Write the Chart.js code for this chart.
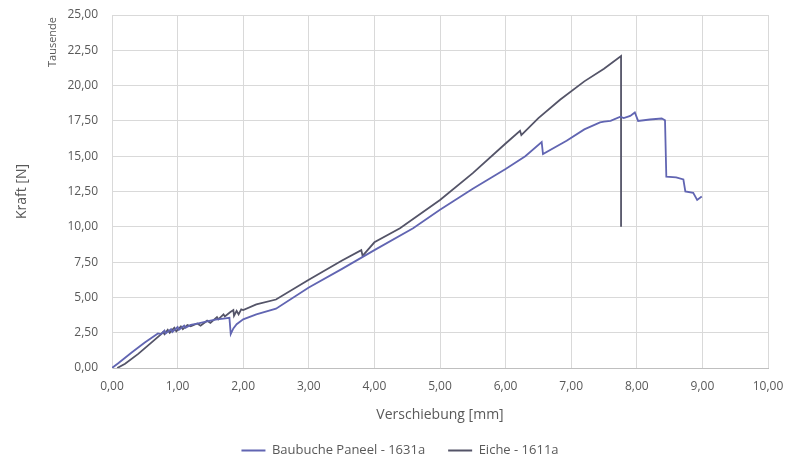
<!DOCTYPE html>
<html lang="de">
<head>
<meta charset="UTF-8">
<title>Kraft-Verschiebung</title>
<script src="https://cdn.jsdelivr.net/npm/chart.js@4"></script>
<style>
  html, body { margin: 0; padding: 0; background: #fff; }
  #wrap { width: 787px; height: 459px; }
</style>
</head>
<body>
<div id="wrap"><canvas id="chart" width="787" height="459"></canvas></div>
<script>
// Verschiebung [mm] / Kraft [kN, "Tausende"]
var bauX = [0, 0.1, 0.3, 0.5, 0.7, 0.75, 0.8, 0.82, 0.9, 0.92, 1.0, 1.02, 1.1, 1.12, 1.2, 1.3, 1.4, 1.5, 1.6, 1.7, 1.79,
            1.81, 1.85, 1.9, 2.0, 2.2, 2.5, 3.0, 3.5, 4.0, 4.59, 5.0, 5.5, 6.0, 6.3, 6.55, 6.57, 6.93, 7.2, 7.44, 7.5, 7.6,
            7.75, 7.8, 7.9, 7.97, 8.02, 8.2, 8.38, 8.43, 8.45, 8.6, 8.71, 8.74, 8.86, 8.92, 8.99];
var bauY = [0, 0.35, 1.1, 1.8, 2.45, 2.4, 2.65, 2.45, 2.75, 2.55, 2.9, 2.7, 3.0, 2.85, 3.05, 3.15, 3.25, 3.35, 3.45, 3.5, 3.55,
            2.4, 2.8, 3.1, 3.45, 3.8, 4.2, 5.7, 7.0, 8.35, 9.9, 11.2, 12.7, 14.1, 15.0, 16.0, 15.15, 16.1, 16.9, 17.4, 17.45, 17.5,
            17.8, 17.7, 17.85, 18.1, 17.5, 17.6, 17.67, 17.55, 13.55, 13.5, 13.35, 12.5, 12.4, 11.9, 12.15];

var eicheX = [0.08, 0.2, 0.4, 0.6, 0.75, 0.78, 0.8, 0.85, 0.88, 0.95, 0.98, 1.05, 1.08, 1.15, 1.2, 1.3, 1.35, 1.45, 1.5, 1.6,
              1.62, 1.7, 1.72, 1.8, 1.85, 1.86, 1.9, 1.93, 1.97, 2.0, 2.2, 2.5, 3.0, 3.5, 3.8, 3.82, 4.0, 4.39, 5.0, 5.5,
              6.0, 6.22, 6.24, 6.5, 6.83, 7.2, 7.5, 7.76, 7.76];
var eicheY = [0, 0.3, 1.0, 1.8, 2.4, 2.55, 2.4, 2.7, 2.5, 2.85, 2.6, 2.95, 2.75, 3.05, 2.95, 3.15, 3.0, 3.35, 3.2, 3.6,
              3.45, 3.8, 3.65, 3.95, 4.1, 3.7, 4.05, 3.8, 4.15, 4.1, 4.5, 4.85, 6.25, 7.6, 8.35, 7.95, 8.9, 9.9, 11.9, 13.8,
              15.9, 16.8, 16.5, 17.7, 19.0, 20.3, 21.2, 22.1, 10.0];

var seriesNames = ['Baubuche Paneel - 1631a', 'Eiche - 1611a'];
var xTicks = [0, 1, 2, 3, 4, 5, 6, 7, 8, 9, 10];
var yTicks = [0, 2.5, 5, 7.5, 10, 12.5, 15, 17.5, 20, 22.5, 25];

function pts(xs, ys) {
  return xs.map(function (x, i) { return { x: x, y: ys[i] }; });
}
function komma(v) { return v.toFixed(2).replace('.', ','); }

var textCol = '#595959';
var gridCol = '#d9d9d9';

// small "Tausende" label next to the y ticks
var tausende = {
  id: 'tausende',
  afterDraw: function (chart) {
    var c = chart.ctx;
    c.save();
    c.translate(53, 42);
    c.rotate(-Math.PI / 2);
    c.font = '11px "Open Sans", sans-serif';
    c.fillStyle = textCol;
    c.textAlign = 'center';
    c.textBaseline = 'middle';
    c.fillText('Tausende', 0, 0);
    c.restore();
  }
};

var ctx = document.getElementById('chart').getContext('2d');
var myChart = new Chart(ctx, {
  type: 'scatter',
  data: {
    datasets: [{
      label: seriesNames[0],
      data: pts(bauX, bauY),
      showLine: true,
      borderColor: '#6165b2',
      backgroundColor: '#6165b2',
      borderWidth: 1.8,
      pointRadius: 0,
      tension: 0
    }, {
      label: seriesNames[1],
      data: pts(eicheX, eicheY),
      showLine: true,
      borderColor: '#545468',
      backgroundColor: '#545468',
      borderWidth: 1.8,
      pointRadius: 0,
      tension: 0
    }]
  },
  options: {
    responsive: false,
    animation: false,
    layout: { padding: { top: 15, right: 19, left: 32, bottom: -8 } },
    plugins: {
      tooltip: { enabled: false },
      legend: {
        position: 'bottom',
        labels: {
          font: { family: '"Open Sans", sans-serif', size: 13 },
          color: textCol,
          boxWidth: 24,
          boxHeight: 0,
          padding: 23,
          generateLabels: function (chart) {
            return chart.data.datasets.map(function (ds, i) {
              return {
                text: ds.label, fillStyle: ds.borderColor, strokeStyle: ds.borderColor,
                lineWidth: 2, datasetIndex: i, fontColor: textCol
              };
            });
          }
        }
      }
    },
    scales: {
      x: {
        type: 'linear',
        min: 0, max: 10,
        afterBuildTicks: function (s) { s.ticks = xTicks.map(function (v) { return { value: v }; }); },
        afterFit: function (s) { s.height = 53; s.paddingLeft = 0; s.paddingRight = 0; },
        grid: { color: gridCol, drawTicks: false },
        border: { color: '#bfbfbf' },
        ticks: {
          padding: 11,
          color: textCol,
          font: { family: '"Open Sans", sans-serif', size: 12 },
          callback: function (v) { return komma(v); }
        },
        title: {
          display: true,
          text: 'Verschiebung [mm]',
          color: textCol,
          font: { family: '"Open Sans", sans-serif', size: 14 },
          padding: { top: 4, bottom: -2 }
        }
      },
      y: {
        min: 0, max: 25,
        afterBuildTicks: function (s) { s.ticks = yTicks.map(function (v) { return { value: v }; }); },
        afterFit: function (s) { s.width = 80; s.paddingTop = 0; s.paddingBottom = 0; },
        grid: { color: gridCol, drawTicks: false },
        border: { color: gridCol },
        ticks: {
          padding: 14,
          color: textCol,
          font: { family: '"Open Sans", sans-serif', size: 12 },
          callback: function (v) { return komma(v); }
        },
        title: {
          display: true,
          text: 'Kraft [N]',
          color: textCol,
          font: { family: '"Open Sans", sans-serif', size: 14 },
          padding: { top: -18, bottom: 4 }
        }
      }
    }
  },
  plugins: [tausende]
});
</script>
</body>
</html>
